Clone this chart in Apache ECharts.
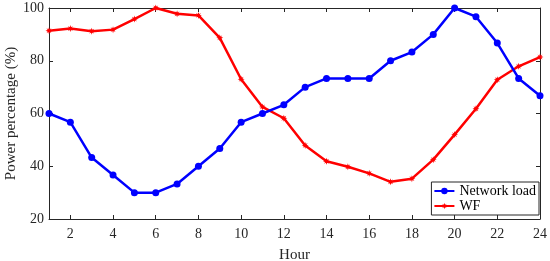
<!DOCTYPE html>
<html><head><meta charset="utf-8">
<script src="https://cdn.jsdelivr.net/npm/echarts@6/dist/echarts.min.js"></script>
<style>html,body{margin:0;padding:0;background:#fff}#c{width:550px;height:261px}</style>
</head><body><div id="c"></div>
<script>
const hours = [1,2,3,4,5,6,7,8,9,10,11,12,13,14,15,16,17,18,19,20,21,22,23,24];
const networkLoad = [60,56.7,43.3,36.7,30,30,33.3,40,46.7,56.7,60,63.3,70,73.3,73.3,73.3,80,83.3,90,100,96.7,86.7,73.3,66.7];
const wf = [91.4,92.2,91.2,91.8,95.8,100,97.8,97.2,88.7,73,62.5,58.2,47.9,41.9,39.8,37.3,34.1,35.3,42.5,52,61.8,72.8,77.9,81.4];
const xTicks = [2,4,6,8,10,12,14,16,18,20,22,24];
const yTicks = [20,40,60,80,100];

const font = 'Liberation Serif';
const axisColor = '#262626';
const star = 'path://M0,-10 L2,-4 L7,-7 L4,-2 L10,0 L4,2 L7,7 L2,4 L0,10 L-2,4 L-7,7 L-4,2 L-10,0 L-4,-2 L-7,-7 L-2,-4 Z';
const chart = echarts.init(document.getElementById('c'), null, {renderer:'canvas'});
const xBase = {type:'value', min:1, max:24, interval:1,
  axisLine:{show:true,lineStyle:{color:axisColor,width:1}},
  axisTick:{show:true,inside:true,length:4,lineStyle:{color:axisColor},
    customValues: xTicks},
  splitLine:{show:false}};
const yBase = {type:'value', min:20, max:100, interval:20,
  axisLine:{show:true,lineStyle:{color:axisColor,width:1}},
  axisTick:{show:true,inside:true,length:4,lineStyle:{color:axisColor}},
  splitLine:{show:false}};
chart.setOption({
  animation:false,
  grid:{left:49,right:10,top:8,bottom:42,outerBoundsMode:'none',containLabel:false},
  legend:{right:11,bottom:46,orient:'vertical',backgroundColor:'#fff',borderColor:axisColor,borderWidth:1,borderRadius:0,
    padding:[2,3,2,2],itemGap:1,itemWidth:20,itemHeight:8,
    textStyle:{fontFamily:font,fontSize:14,color:'#000'},
    data:['Network load','WF']},
  xAxis:[
    Object.assign({}, xBase, {position:'bottom', name:'Hour', nameLocation:'middle', nameGap:29,
      nameTextStyle:{fontFamily:font,fontSize:15,color:axisColor},
      axisLabel:{fontFamily:font,fontSize:14,color:axisColor,margin:8,customValues:xTicks}}),
    Object.assign({}, xBase, {position:'top', axisLabel:{show:false}})
  ],
  yAxis:[
    Object.assign({}, yBase, {position:'left', name:'Power percentage (%)', nameLocation:'middle', nameGap:30,
      nameMoveOverlap:false,
      nameTextStyle:{fontFamily:font,fontSize:15,color:axisColor},
      axisLabel:{fontFamily:font,fontSize:14,color:axisColor,margin:5}}),
    Object.assign({}, yBase, {position:'right', axisLabel:{show:false}})
  ],
  series:[
    {name:'Network load',type:'line',data:hours.map((h,i)=>[h,networkLoad[i]]),
      color:'#0000ff',lineStyle:{width:2.5},symbol:'circle',symbolSize:7,z:3},
    {name:'WF',type:'line',data:hours.map((h,i)=>[h,wf[i]]),
      color:'#ff0000',lineStyle:{width:2.5},symbol:star,symbolSize:7,z:2}
  ]
});
</script></body></html>
